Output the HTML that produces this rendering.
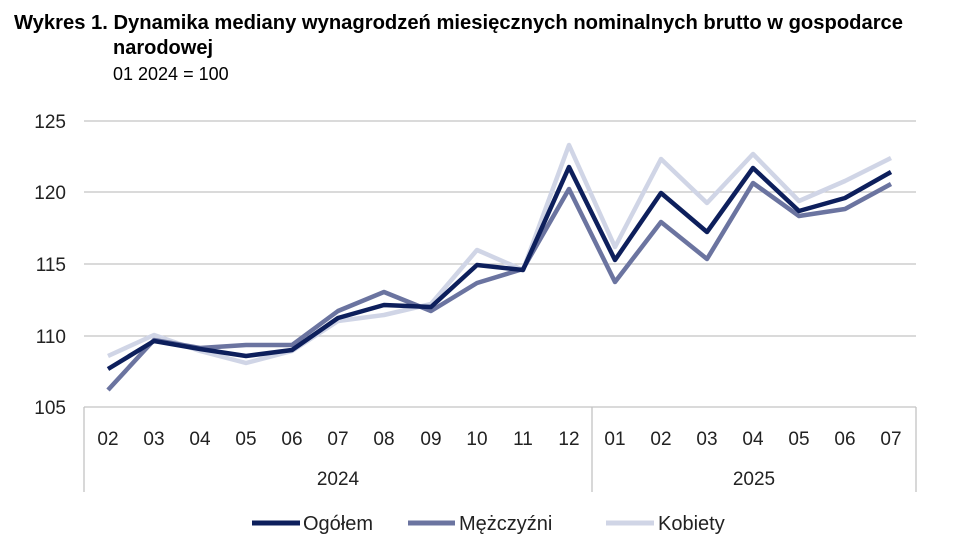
<!DOCTYPE html>
<html><head><meta charset="utf-8"><style>
body{margin:0;background:#fff;width:966px;height:550px;overflow:hidden}
svg{font-family:"Liberation Sans",sans-serif}
</style></head><body>
<svg width="966" height="550" viewBox="0 0 966 550" xmlns="http://www.w3.org/2000/svg">
<text x="14" y="29" font-size="20" font-weight="bold" fill="#000" textLength="889" lengthAdjust="spacingAndGlyphs">Wykres 1. Dynamika mediany wynagrodzeń miesięcznych nominalnych brutto w gospodarce</text>
<text x="113" y="54" font-size="20" font-weight="bold" fill="#000">narodowej</text>
<text x="113" y="80" font-size="18" fill="#000">01 2024 = 100</text>
<g stroke="#c4c4c4" stroke-width="1.3">
<line x1="84" y1="121" x2="916" y2="121"/><line x1="84" y1="192" x2="916" y2="192"/>
<line x1="84" y1="264" x2="916" y2="264"/><line x1="84" y1="336" x2="916" y2="336"/>
<line x1="84" y1="407" x2="916" y2="407"/>
<line x1="84" y1="407" x2="84" y2="492"/><line x1="592" y1="407" x2="592" y2="492"/><line x1="916" y1="407" x2="916" y2="492"/>
</g>
<g font-size="19" fill="#222" text-anchor="end">
<text x="66" y="128">125</text><text x="66" y="199">120</text><text x="66" y="271">115</text><text x="66" y="343">110</text><text x="66" y="414">105</text>
</g>
<g font-size="19" fill="#222" text-anchor="middle">
<text x="108" y="445">02</text><text x="154" y="445">03</text><text x="200" y="445">04</text><text x="246" y="445">05</text><text x="292" y="445">06</text><text x="338" y="445">07</text><text x="384" y="445">08</text><text x="431" y="445">09</text><text x="477" y="445">10</text><text x="523" y="445">11</text><text x="569" y="445">12</text><text x="615" y="445">01</text><text x="661" y="445">02</text><text x="707" y="445">03</text><text x="753" y="445">04</text><text x="799" y="445">05</text><text x="845" y="445">06</text><text x="891" y="445">07</text>
<text x="338" y="485">2024</text><text x="754" y="485">2025</text>
</g>
<g fill="none" stroke-width="4.5" stroke-linejoin="round">
<polyline stroke="#d0d5e6" points="108,356 154,335 200,351 246,363 292,351 338,321 384,315 431,304 477,250 523,270 569,145 615,247 661,159 707,203 753,154 799,201 845,181 891,158"/>
<polyline stroke="#6b74a0" points="108,390 154,340 200,348 246,345 292,345 338,311 384,292 431,311 477,283 523,269 569,189 615,282 661,222 707,259 753,183 799,216 845,209 891,184"/>
<polyline stroke="#0d1f5c" points="108,369 154,341 200,349 246,356 292,350 338,318 384,305 431,307 477,265 523,270 569,167 615,260 661,193 707,232 753,168 799,211 845,198 891,172"/>
</g>
<g stroke-width="5">
<line x1="252" y1="523" x2="300" y2="523" stroke="#0d1f5c"/>
<line x1="408" y1="523" x2="455" y2="523" stroke="#6b74a0"/>
<line x1="606" y1="523" x2="654" y2="523" stroke="#d0d5e6"/>
</g>
<g font-size="20" fill="#222">
<text x="303" y="530">Ogółem</text><text x="459" y="530">Mężczyźni</text><text x="658" y="530">Kobiety</text>
</g>
</svg>
</body></html>
